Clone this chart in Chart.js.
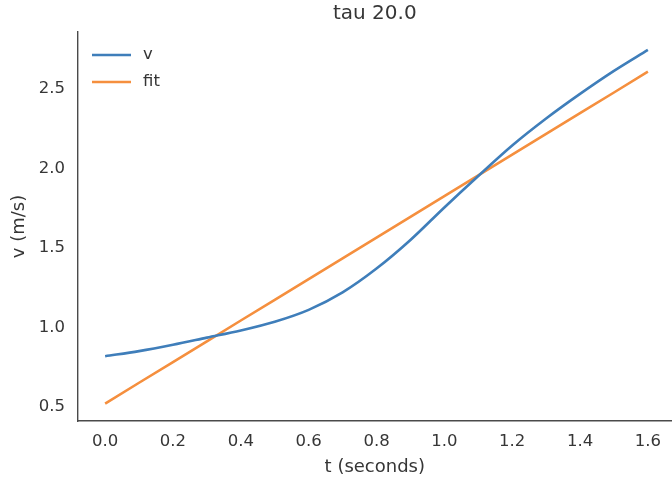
<!DOCTYPE html>
<html>
<head>
<meta charset="utf-8">
<script src="https://cdn.jsdelivr.net/npm/chart.js@4/dist/chart.umd.min.js"></script>
<style>
  html, body { margin: 0; padding: 0; background: #fff; }
  #wrap { width: 672px; height: 480px; }
</style>
</head>
<body>
<div id="wrap"><canvas id="tauChart" width="672" height="480"></canvas></div>
<script>
// time samples (seconds)
var tValues = [0.0, 0.1, 0.2, 0.3, 0.4, 0.5, 0.6, 0.7, 0.8, 0.9, 1.0, 1.1, 1.2, 1.3, 1.4, 1.5, 1.6];
// measured velocity
var vValues = [0.818, 0.85, 0.89, 0.935, 0.98, 1.035, 1.11, 1.22, 1.37, 1.55, 1.755, 1.953, 2.145, 2.315, 2.47, 2.615, 2.747];
// linear fit
var fitValues = [0.52, 0.651, 0.781, 0.912, 1.043, 1.173, 1.304, 1.434, 1.565, 1.696, 1.826, 1.957, 2.087, 2.218, 2.349, 2.479, 2.61];
var xTicks = [0.0, 0.2, 0.4, 0.6, 0.8, 1.0, 1.2, 1.4, 1.6];
var yTicks = [0.5, 1.0, 1.5, 2.0, 2.5];
var chartTitle = "tau 20.0";

var textColor = '#363636';
var font = "'DejaVu Sans', sans-serif";

function pts(ys) {
    return tValues.map(function(t, i){ return {x: t, y: ys[i]}; });
}

// title centred over the plot area + legend inside the axes (top left)
var axDecor = {
    id: 'axDecor',
    afterDraw: function(chart) {
        var ctx = chart.ctx, a = chart.chartArea;
        ctx.save();
        ctx.fillStyle = textColor;
        ctx.font = "20px " + font;
        ctx.textAlign = 'center';
        ctx.textBaseline = 'middle';
        ctx.fillText(chartTitle, (a.left + a.right) / 2, 14);

        ctx.font = "16.5px " + font;
        ctx.textAlign = 'left';
        chart.data.datasets.forEach(function(ds, i) {
            var y = 55 + i * 27;
            ctx.strokeStyle = ds.borderColor;
            ctx.lineWidth = 2.6;
            ctx.beginPath();
            ctx.moveTo(a.left + 14, y);
            ctx.lineTo(a.left + 53, y);
            ctx.stroke();
            ctx.fillStyle = textColor;
            ctx.fillText(ds.label, a.left + 65, y);
        });
        ctx.restore();
    }
};

var ctx = document.getElementById("tauChart").getContext('2d');
var myChart = new Chart(ctx, {
    type: 'line',
    data: {
        datasets: [{
            label: 'v',
            data: pts(vValues),
            borderColor: '#3f7eba',
            borderWidth: 2.6,
            pointRadius: 0,
            cubicInterpolationMode: 'monotone'
        }, {
            label: 'fit',
            data: pts(fitValues),
            borderColor: '#f58f3e',
            borderWidth: 2.6,
            pointRadius: 0
        }]
    },
    options: {
        responsive: false,
        animation: false,
        layout: { padding: { top: 32, left: 0, right: 0, bottom: 0 } },
        plugins: {
            title: { display: false },
            tooltip: { enabled: false },
            legend: { display: false }
        },
        scales: {
            x: {
                type: 'linear',
                min: -0.08,
                max: 1.67,
                afterBuildTicks: function(s) { s.ticks = xTicks.map(function(v){ return {value: v}; }); },
                afterFit: function(s) { s.height = 59; },
                grid: { display: false, drawTicks: false },
                border: { display: true, color: '#4a4a4a', width: 1.4 },
                ticks: {
                    padding: 11,
                    color: textColor,
                    font: { family: font, size: 16.5 },
                    callback: function(v) { return v.toFixed(1); }
                },
                title: {
                    display: true,
                    text: 't (seconds)',
                    color: textColor,
                    font: { family: font, size: 18 },
                    padding: { top: 0, bottom: 2 }
                }
            },
            y: {
                min: 0.41,
                max: 2.86,
                afterBuildTicks: function(s) { s.ticks = yTicks.map(function(v){ return {value: v}; }); },
                afterFit: function(s) { s.width = 78; },
                grid: { display: false, drawTicks: false },
                border: { display: true, color: '#4a4a4a', width: 1.4 },
                ticks: {
                    padding: 13,
                    color: textColor,
                    font: { family: font, size: 16.5 },
                    callback: function(v) { return v.toFixed(1); }
                },
                title: {
                    display: true,
                    text: 'v (m/s)',
                    color: textColor,
                    font: { family: font, size: 18 },
                    padding: { top: 9, bottom: 0 }
                }
            }
        }
    },
    plugins: [axDecor]
});
</script>
</body>
</html>
